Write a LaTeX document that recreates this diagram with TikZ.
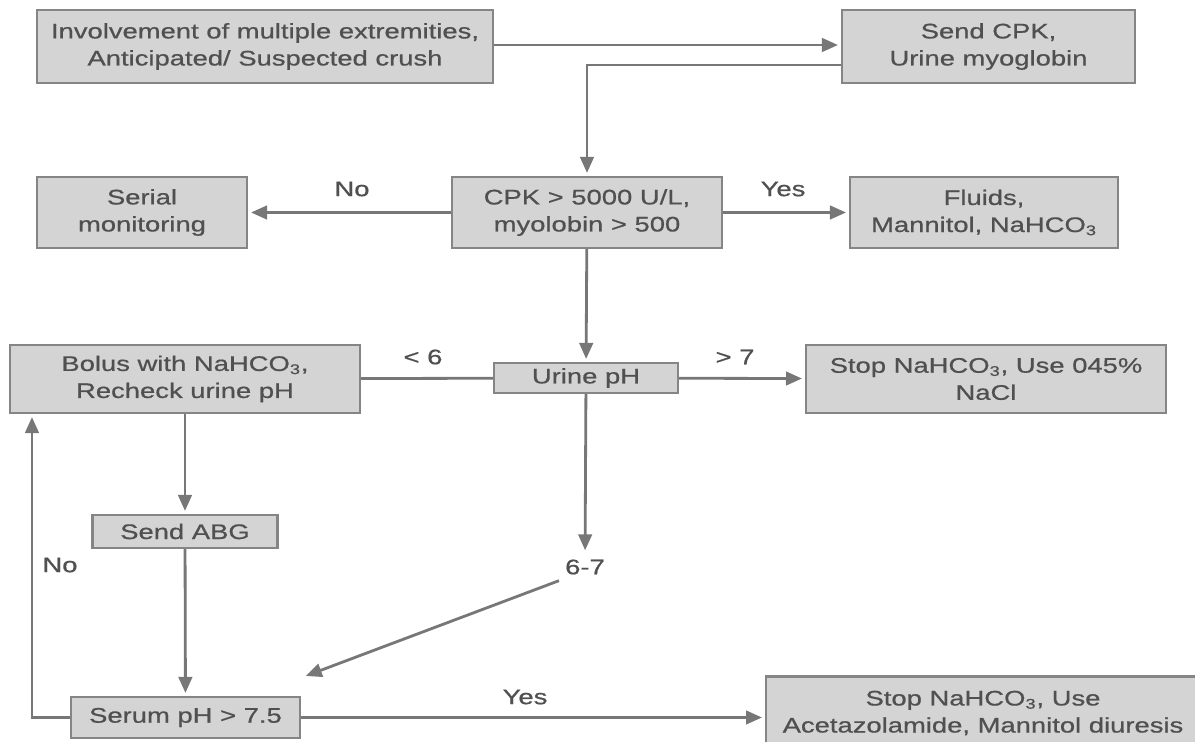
\documentclass[tikz,border=0pt]{standalone}
\usepackage{fontspec}
\setmainfont{Liberation Sans}[FakeStretch=1.3, FakeBold=0.7]
\usetikzlibrary{arrows.meta,positioning}
\definecolor{boxfill}{HTML}{D4D4D4}
\definecolor{boxline}{HTML}{858585}
\definecolor{ink}{HTML}{505050}
\definecolor{wire}{HTML}{777777}
\newcommand{\bicarb}{NaHCO\textsubscript{3}}

\begin{document}
\begin{tikzpicture}[
  x=0.02cm, y=-0.02cm,
  font=\fontsize{12}{15.4}\selectfont,
  box/.style={draw=boxline, fill=boxfill, line width=1.2pt, text=ink, align=center, inner sep=2pt, minimum height=1.42cm},
  lbl/.style={text=ink},
  arrow/.style={-{Triangle[length=0.32cm,width=0.27cm]}, draw=wire, line width=1.6pt, shorten >=0.06cm},
  link/.style={draw=wire, line width=1.6pt}
]
\useasboundingbox (0,0) rectangle (1195,742);
\node[box, minimum width=9.12cm, minimum height=1.46cm] (inv) at (265,46.5) {Involvement of multiple extremities,\\Anticipated/ Suspected crush};
\node[box, minimum width=5.86cm, minimum height=1.46cm] (cpk) at (988.5,46.5) {Send CPK,\\Urine myoglobin};
\node[box, minimum width=5.4cm] (test) at (587,212.5) {CPK > 5000 U/L,\\myolobin > 500};
\node[box, minimum width=4.2cm] (serial) at (142,212.5) {Serial\\monitoring};
\node[box, minimum width=5.36cm] (fluids) at (984,212.5) {Fluids,\\Mannitol, \bicarb};
\node[box, minimum width=3.68cm, minimum height=0.6cm] (urine) at (586,378) {Urine pH};
\node[box, minimum width=7.0cm, minimum height=1.36cm] (bolus) at (185,379) {Bolus with \bicarb,\\Recheck urine pH};
\node[box, minimum width=7.2cm, minimum height=1.36cm] (stopa) at (986,379) {Stop \bicarb, Use 045\%\\NaCl};
\node[box, minimum width=3.7cm, minimum height=0.66cm] (abg) at (185,531.5) {Send ABG};
\node[box, minimum width=4.58cm, minimum height=0.82cm] (serum) at (185.5,717.5) {Serum pH > 7.5};
\node[box, minimum width=8.68cm, minimum height=1.46cm] (stopb) at (983,713) {Stop \bicarb, Use\\Acetazolamide, Mannitol diuresis};
\node[lbl] (range) at (585,567) {6-7};
\coordinate (hit) at (303,677);

% labels on the branches
\node[lbl] at (352,189) {No};
\node[lbl] at (783,189) {Yes};
\node[lbl] at (423,357) {< 6};
\node[lbl] at (735,357) {> 7};
\node[lbl] at (60,565) {No};
\node[lbl] at (525,697) {Yes};

\draw[arrow] ([yshift=0.03cm]inv.east) -- ([yshift=0.03cm]cpk.west);
\draw[arrow] ([yshift=-0.37cm]cpk.west) -| (test.north);
\draw[arrow] (test) -- (serial);
\draw[arrow] (test) -- (fluids);
\draw[arrow] (test) -- (urine);
\draw[link] (urine) -- (bolus);
\draw[arrow] (urine) -- (stopa);
\draw[arrow] (urine) -- (range);
\draw[arrow] (range.south west) -- (hit);
\draw[arrow] (bolus) -- (abg);
\draw[arrow] (abg) -- (serum);
\draw[arrow] (serum.west) -| ([xshift=0.46cm]bolus.south west);
\draw[arrow] (serum) -- (serum -| stopb.west);
\end{tikzpicture}
\end{document}
